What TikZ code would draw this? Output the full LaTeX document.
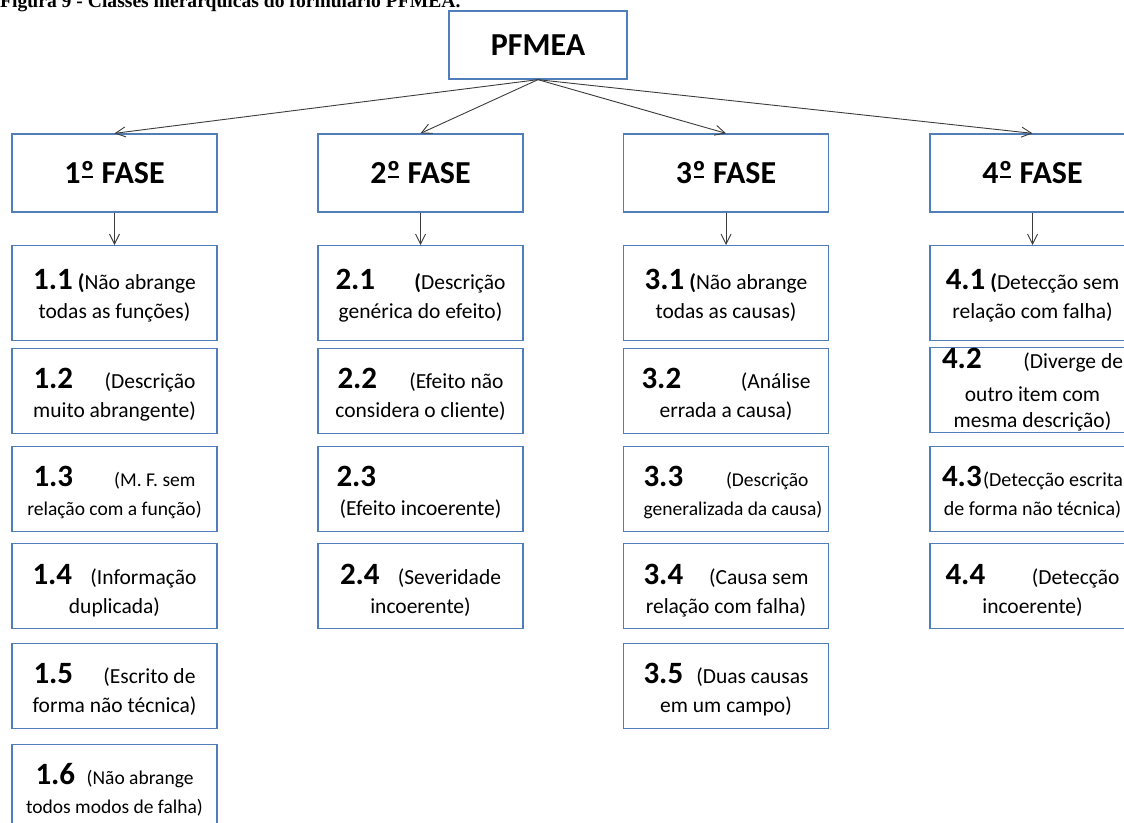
\documentclass[tikz,border=0pt]{standalone}
\usepackage{fontspec}
\setmainfont{Carlito}
\newfontfamily\titlefont{Liberation Serif}
\usetikzlibrary{arrows.meta}
\definecolor{boxblue}{RGB}{79,126,186}
\definecolor{linegray}{RGB}{60,60,60}
\newcommand\numb[1]{{\fontsize{31}{31}\selectfont\bfseries #1}}
\newcommand\firstln[3]{\makebox[#1pt]{#2\hfill#3}}
\newcommand\smallt{\fontsize{19.5}{29}\selectfont}
\newcommand\topst[1]{\rule{0pt}{#1pt}}
\newcommand\botst[1]{\rule[-#1pt]{0pt}{#1pt}}
\newsavebox\ordbox
\newcommand\ordu{\sbox\ordbox{º}\rlap{º}\kern0.12\wd\ordbox\rule[0.19em]{0.76\wd\ordbox}{0.06em}\kern0.12\wd\ordbox}
\begin{document}
\begin{tikzpicture}[x=1pt,y=-1pt,
  box/.style={draw=boxblue, line width=1.3pt, fill=white, minimum width=205pt,
    inner xsep=0pt, inner ysep=0pt, align=center, font=\fontsize{21.5}{29}\selectfont},
  item/.style={box, anchor=north},
  phase/.style={box, minimum height=78pt, font=\fontsize{32}{32}\selectfont\bfseries},
  conn/.style={draw=linegray, line width=0.9pt, -{Straight Barb[length=10pt,width=10pt]}}
]
\useasboundingbox (0,0) rectangle (1124,822);
\clip (0,0) rectangle (1124,822);

\node[anchor=base west, inner sep=0pt, font=\titlefont\bfseries\fontsize{19.6}{24}\selectfont] (title) at (0,7.5)
  {Figura 9 - Classes hierárquicas do formulário PFMEA.};

\node[box, minimum width=178pt, minimum height=68pt, font=\fontsize{32}{32}\selectfont\bfseries] (pfmea) at (538,45) {PFMEA};

\node[phase] (ph1) at (114.5,173) {1\ordu{} FASE};
\node[phase] (ph2) at (420.5,173) {2\ordu{} FASE};
\node[phase] (ph3) at (726,173) {3\ordu{} FASE};
\node[phase] (ph4) at (1032.5,173) {4\ordu{} FASE};

% column 1
\node[item] (i11) at (114.5,245) {\topst{44}\numb{1.1} \textbf{(}Não abrange\\todas as funções)\botst{22}};
\node[item] (i12) at (114.5,348) {\topst{40}\firstln{162}{\numb{1.2}}{(Descrição}\\muito abrangente)\botst{16}};
\node[item] (i13) at (114.5,446) {\topst{40}\firstln{162}{\numb{1.3}}{\smallt(M. F. sem}\\\smallt relação com a função)\botst{16}};
\node[item] (i14) at (114.5,543) {\topst{41}\firstln{164}{\numb{1.4}}{(Informação}\\duplicada)\botst{15}};
\node[item] (i15) at (114.5,643) {\topst{40}\firstln{162}{\numb{1.5}}{(Escrito de}\\forma não técnica)\botst{16}};
\node[item] (i16) at (114.5,744) {\topst{40}\firstln{158}{\numb{1.6}}{\smallt(Não abrange}\\\smallt todos modos de falha)\botst{16}};

% column 2
\node[item] (i21) at (420.5,245) {\topst{44}\firstln{170}{\numb{2.1}}{\textbf{(}Descrição}\\genérica do efeito)\botst{22}};
\node[item] (i22) at (420.5,348) {\topst{40}\firstln{166}{\numb{2.2}}{(Efeito não}\\considera o cliente)\botst{16}};
\node[item] (i23) at (420.5,446) {\topst{40}\makebox[168pt][l]{\numb{2.3}}\\(Efeito incoerente)\botst{16}};
\node[item] (i24) at (420.5,543) {\topst{41}\firstln{161}{\numb{2.4}}{(Severidade}\\incoerente)\botst{15}};

% column 3
\node[item] (i31) at (726,245) {\topst{44}\numb{3.1} \textbf{(}Não abrange\\todas as causas)\botst{22}};
\node[item] (i32) at (726,348) {\topst{40}\firstln{169}{\numb{3.2}}{(Análise}\\errada a causa)\botst{16}};
\node[item] (i33) at (726,446) {\topst{40}\firstln{165}{\numb{3.3}}{\smallt(Descrição}\\\hspace*{14pt}\smallt generalizada da causa)\botst{16}};
\node[item] (i34) at (726,543) {\topst{41}\firstln{165}{\numb{3.4}}{(Causa sem}\\relação com falha)\botst{15}};
\node[item] (i35) at (726,643) {\topst{40}\firstln{165}{\numb{3.5}}{(Duas causas}\\em um campo)\botst{16}};

% column 4
\node[item] (i41) at (1032.5,245) {\topst{44}\numb{4.1} \textbf{(}Detecção sem\\relação com falha)\botst{22}};
\node[item] (i42) at (1032.5,347) {\topst{21}\firstln{181}{\numb{4.2}}{(Diverge de}\\[4pt]outro item com\\[-3pt]mesma descrição)\botst{5}};
\node[item] (i43) at (1032.5,446) {\topst{40}\firstln{181}{\numb{4.3}}{\fontsize{20}{29}\selectfont(Detecção escrita}\\\fontsize{20}{29}\selectfont de forma não técnica)\botst{16}};
\node[item] (i44) at (1032.5,543) {\topst{41}\firstln{174}{\numb{4.4}}{(Detecção}\\incoerente)\botst{15}};

% connectors
\foreach \p in {ph1,ph2,ph3,ph4} \draw[conn] (pfmea.south) -- (\p.north);
\draw[conn] (ph1.south) -- (i11.north);
\draw[conn] (ph2.south) -- (i21.north);
\draw[conn] (ph3.south) -- (i31.north);
\draw[conn] (ph4.south) -- (i41.north);
\end{tikzpicture}
\end{document}
